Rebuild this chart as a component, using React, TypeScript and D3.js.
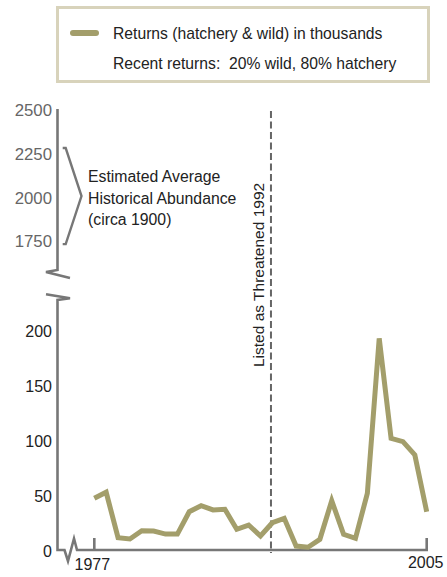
import React from "react";
import * as d3 from "d3";

const years: number[] = [
  1977, 1978, 1979, 1980, 1981, 1982, 1983, 1984, 1985, 1986, 1987, 1988, 1989, 1990, 1991,
  1992, 1993, 1994, 1995, 1996, 1997, 1998, 1999, 2000, 2001, 2002, 2003, 2004, 2005,
];
const returnsK: number[] = [
  47, 52.5, 11.2, 10, 17.5, 17.3, 14.5, 14.5, 34.8, 40.3, 36.4, 37, 18.8, 22.7, 12.7,
  24.8, 28.8, 3.6, 2.5, 9.7, 44.8, 14.3, 10.6, 51.5, 192.4, 101.5, 98.5, 86.4, 34.8,
];
const lowerTicks: number[] = [0, 50, 100, 150, 200];
const upperTicks: number[] = [1750, 2000, 2250, 2500];
const xTickYears: number[] = [1977, 2005];
const historicalRange: number[] = [1735, 2285];
const listingYear = 1992;
const legendLines: string[] = [
  "Returns (hatchery & wild) in thousands",
  "Recent returns:  20% wild, 80% hatchery",
];
const annotationLines: string[] = ["Estimated Average", "Historical Abundance", "(circa 1900)"];
const listingLabel = "Listed as Threatened 1992";

const W = 447;
const H = 577;
const FONT = "'Liberation Sans', Arial, sans-serif";
const AXIS = "#777777";
const LINE = "#a39e6b";

export default function App() {
  const x = d3.scaleLinear().domain([1977, 2005]).range([94.3, 426.7]);
  const yLow = d3.scaleLinear().domain([0, 200]).range([550, 330]);
  const yTop = d3.scaleLinear().domain([1750, 2500]).range([241.5, 110.5]);
  const axisX = 57.5;
  const baseY = yLow(0);

  const line = d3
    .line<number>()
    .x((_, i) => x(years[i]))
    .y((d) => yLow(d));

  const bTop = yTop(historicalRange[1]);
  const bBot = yTop(historicalRange[0]);
  const bMid = (bTop + bBot) / 2;

  const lx = x(listingYear) - 1.4;

  return (
    <svg
      width={W}
      height={H}
      style={{ position: "absolute", left: 0, top: 0, background: "#fff" }}
      fontFamily={FONT}
    >
      {/* Legend */}
      <rect x={57.5} y={7.5} width={371} height={74} fill="#fff" stroke="#d8d3bb" strokeWidth={3} />
      <line x1={73} x2={96} y1={33} y2={33} stroke={LINE} strokeWidth={6} strokeLinecap="round" />
      <text x={113} y={38.5} fontSize={15.7} fill="#222">
        {legendLines[0]}
      </text>
      <text x={113} y={69} fontSize={15.7} fill="#222" style={{ whiteSpace: "pre" }}>
        {legendLines[1]}
      </text>

      {/* Upper axis */}
      <path
        d={`M${axisX},${yTop(2500) - 1.5}V270L46,272L70,278`}
        fill="none"
        stroke={AXIS}
        strokeWidth={2.6}
        strokeLinejoin="miter"
      />
      {upperTicks.map((t) => (
        <text key={t} x={52} y={yTop(t)} dy="0.35em" fontSize={16.8} fill="#666" textAnchor="end">
          {t}
        </text>
      ))}

      {/* Bracket */}
      <path
        d={`M62.7,${bTop}H65.7L81.5,${bMid}L65.7,${bBot}H62.7`}
        fill="none"
        stroke={AXIS}
        strokeWidth={2.4}
      />
      {annotationLines.map((s, i) => (
        <text key={s} x={88} y={182 + i * 21.5} fontSize={15.8} fill="#222">
          {s}
        </text>
      ))}

      {/* Lower axis */}
      <path
        d={`M46,294.3L70,298.3L${axisX},300V${baseY}H64.5L68,561L74,538.5L77,${baseY}H${x(2005)}V538`}
        fill="none"
        stroke={AXIS}
        strokeWidth={2.6}
        strokeLinejoin="miter"
      />
      <line x1={x(1977)} x2={x(1977)} y1={538} y2={baseY} stroke={AXIS} strokeWidth={2.6} />
      {lowerTicks.map((t) => (
        <text key={t} x={52} y={yLow(t) + 1.5} dy="0.35em" fontSize={16} fill="#222" textAnchor="end">
          {t}
        </text>
      ))}
      {xTickYears.map((yr, i) => (
        <text
          key={yr}
          x={x(yr) - (i === 0 ? 2 : 1)}
          y={i === 0 ? 570 : 568}
          fontSize={16}
          fill="#222"
          textAnchor="middle"
        >
          {yr}
        </text>
      ))}

      {/* Listing line */}
      <line x1={lx} x2={lx} y1={111} y2={553} stroke="#666" strokeWidth={2} strokeDasharray="7,3.5" />
      <text transform={`translate(263.5,367) rotate(-90)`} fontSize={15.5} fill="#222">
        {listingLabel}
      </text>

      {/* Data line */}
      <path d={line(returnsK) || ""} fill="none" stroke={LINE} strokeWidth={5} strokeLinejoin="miter" />
    </svg>
  );
}
